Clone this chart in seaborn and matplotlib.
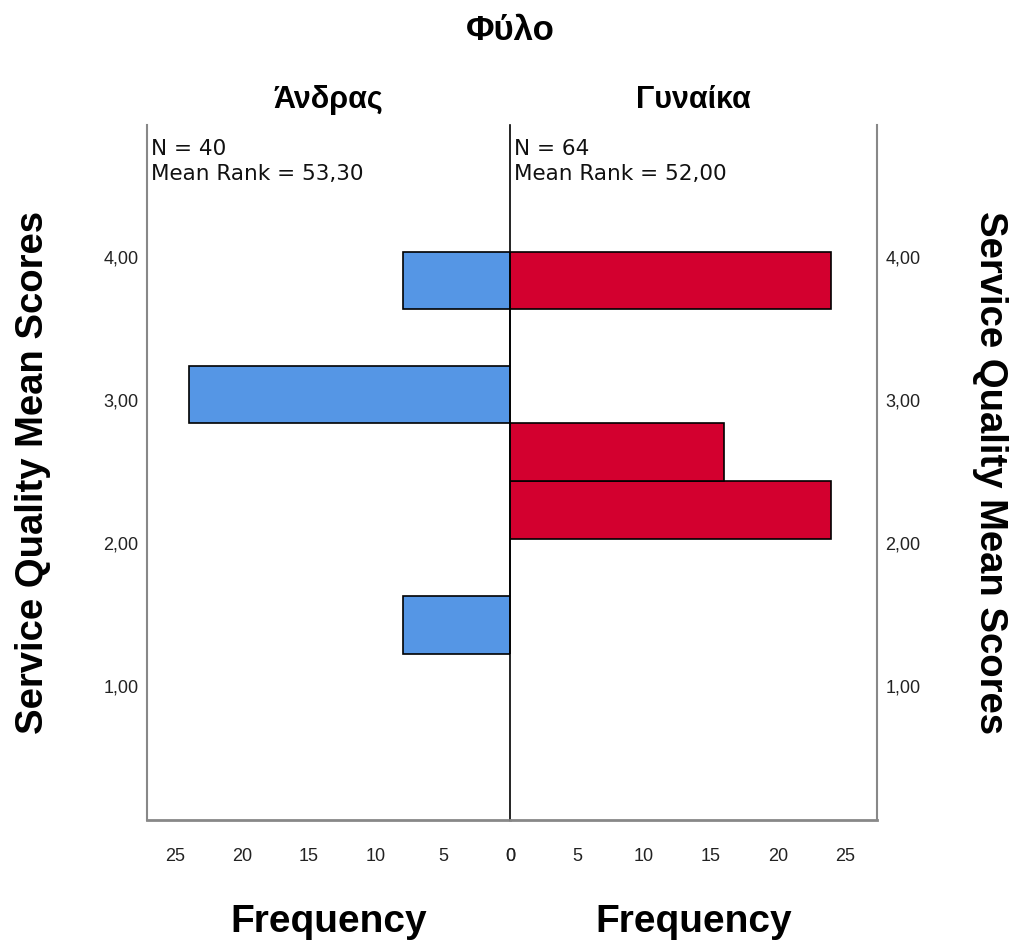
import matplotlib
matplotlib.use("Agg")
import matplotlib.pyplot as plt
import seaborn as sns

# Bin edges of Service Quality Mean Scores and frequencies per group
bin_edges = [1.22, 1.625, 2.03, 2.43, 2.835, 3.235, 3.635, 4.035]
bin_centers = [(a + b) / 2 for a, b in zip(bin_edges[:-1], bin_edges[1:])]
male_counts = [8, 0, 0, 0, 24, 0, 8]
female_counts = [0, 0, 24, 16, 0, 0, 24]

groups = ["Άνδρας", "Γυναίκα"]
group_n = [40, 64]
mean_ranks = ["53,30", "52,00"]
colors = ["#5596E5", "#D3002F"]

y_ticks = [1, 2, 3, 4]
y_ticklabels = ["1,00", "2,00", "3,00", "4,00"]
x_ticks = [0, 5, 10, 15, 20, 25]

sns.set_style("white")
plt.rcParams["font.family"] = ["Liberation Sans", "DejaVu Sans"]
plt.rcParams["text.color"] = "black"
plt.rcParams["axes.labelcolor"] = "black"

fig = plt.figure(figsize=(10.13, 9.44), dpi=100)
ax_l = fig.add_axes([0.1451, 0.1314, 0.3584, 0.7362])
ax_r = fig.add_axes([0.5035, 0.1314, 0.3622, 0.7362])
ax_r.patch.set_visible(False)

for ax, counts, color in [(ax_l, male_counts, colors[0]), (ax_r, female_counts, colors[1])]:
    sns.histplot(y=bin_centers, weights=counts, bins=bin_edges, ax=ax,
                 color=color, alpha=1, edgecolor="black", linewidth=1.2)
    ax.set_ylim(0.063, 4.92)
    ax.set_yticks(y_ticks)
    ax.set_xticks(x_ticks)
    ax.set_xticklabels([str(t) for t in x_ticks], fontsize=13, color="#222222")
    ax.tick_params(axis="x", length=0, pad=20)
    ax.tick_params(axis="y", length=0, pad=6)
    ax.spines["top"].set_visible(False)
    ax.spines["bottom"].set_color("#888888")
    ax.spines["bottom"].set_linewidth(2)
    ax.set_xlabel("Frequency", fontsize=28, fontweight="bold", labelpad=28)

ax_l.set_xlim(27.1, 0)
ax_r.set_xlim(0, 27.4)

ax_l.spines["right"].set_visible(False)
ax_l.spines["left"].set_color("#888888")
ax_l.spines["left"].set_linewidth(1.5)
ax_l.set_yticklabels(y_ticklabels, fontsize=13, color="#222222")
ax_l.set_ylabel("Service Quality Mean Scores", fontsize=27.5, fontweight="bold", labelpad=38)

ax_r.spines["left"].set_color("black")
ax_r.spines["left"].set_linewidth(1.2)
ax_r.spines["right"].set_color("#888888")
ax_r.spines["right"].set_linewidth(1.5)
ax_r.yaxis.tick_right()
ax_r.yaxis.set_label_position("right")
ax_r.set_yticklabels(y_ticklabels, fontsize=13, color="#222222")
ax_r.set_ylabel("Service Quality Mean Scores", fontsize=27.5, fontweight="bold",
                rotation=270, labelpad=63)

for ax, n, mr in [(ax_l, group_n[0], mean_ranks[0]), (ax_r, group_n[1], mean_ranks[1])]:
    ax.text(0.011, 0.98, f"N = {n}\nMean Rank = {mr}", transform=ax.transAxes,
            ha="left", va="top", fontsize=15.5, family="DejaVu Sans", linespacing=1.3,
            color="#111111")

fig.text(0.5035, 1 - 30 / 944, "Φύλο", ha="center", va="center",
         fontsize=25, fontweight="bold")
fig.text((147 + 510) / 2 / 1013, 1 - 100 / 944, groups[0], ha="center", va="center",
         fontsize=22, fontweight="bold")
fig.text((510 + 877) / 2 / 1013, 1 - 100 / 944, groups[1], ha="center", va="center",
         fontsize=22, fontweight="bold")

fig.savefig("out.png", dpi=100)
